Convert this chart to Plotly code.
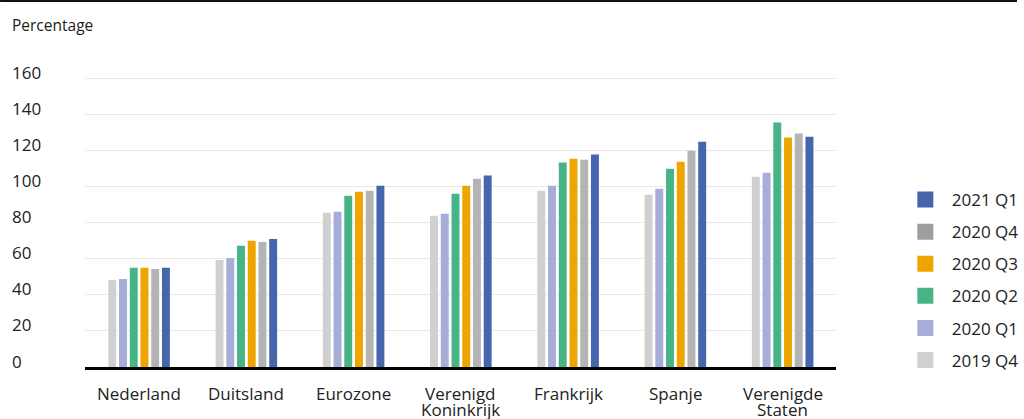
import plotly.graph_objects as go

categories = ["Nederland", "Duitsland", "Eurozone", "Verenigd Koninkrijk",
              "Frankrijk", "Spanje", "Verenigde Staten"]
category_label_lines = [["Nederland"], ["Duitsland"], ["Eurozone"], ["Verenigd", "Koninkrijk"],
                        ["Frankrijk"], ["Spanje"], ["Verenigde", "Staten"]]
series_names = ["2019 Q4", "2020 Q1", "2020 Q2", "2020 Q3", "2020 Q4", "2021 Q1"]
q4_2019 = [48.3, 59.4, 85.6, 83.9, 97.8, 95.6, 105.6]
q1_2020 = [48.8, 60.5, 86.1, 85.0, 100.6, 98.9, 107.8]
q2_2020 = [55.0, 67.2, 95.0, 96.1, 113.4, 110.0, 135.6]
q3_2020 = [55.0, 70.0, 97.2, 100.6, 115.6, 113.9, 127.3]
q4_2020 = [54.4, 69.4, 97.8, 104.5, 115.0, 120.0, 129.5]
q1_2021 = [55.0, 71.0, 100.6, 106.2, 117.9, 125.0, 127.8]
series_values = [q4_2019, q1_2020, q2_2020, q3_2020, q4_2020, q1_2021]
bar_colors = ["#d0d0d0", "#a6add8", "#47b488", "#efa500", "#b4b4b4", "#4565ad"]
legend_colors = ["#d0d0d0", "#a6add8", "#47b488", "#efa500", "#9e9e9e", "#4565ad"]
y_ticks = [0, 20, 40, 60, 80, 100, 120, 140, 160]
y_tick_labels = ["0", "20", "40", "60", "80", "100", "120", "140", "160"]

FONT = "Open Sans"
TXT = "#222222"
W, H = 1024, 419
ml, mr, mt, mb = 10, 0, 75, 52
pw = W - ml - mr
ph = H - mt - mb


def py(p):
    """pixel row -> paper y"""
    return (H - mb - p) / ph


fig = go.Figure()
for name, vals, col in zip(series_names, series_values, bar_colors):
    fig.add_trace(go.Bar(x=categories, y=vals, name=name, marker_color=col,
                         marker_line_width=0, showlegend=False))
# legend entries (top: newest)
for name, col in reversed(list(zip(series_names, legend_colors))):
    fig.add_trace(go.Scatter(x=[None], y=[None], mode="markers", name=name,
                             legendgroup=name,
                             marker=dict(symbol="square", size=17, color=col)))

x0 = (86 - ml) / pw
x1 = (842 - ml) / pw

annotations = [dict(text=lab, xref="paper", yref="y", x=0, y=v, xanchor="left",
                    yanchor="middle", yshift=6, showarrow=False,
                    font=dict(size=17, color=TXT, family=FONT))
               for v, lab in zip(y_ticks, y_tick_labels)]
# category labels, tight line spacing as in the reference
line_rows = [393, 409]
for cat, lines in zip(categories, category_label_lines):
    for i, line in enumerate(lines):
        annotations.append(dict(text=line, xref="x", yref="paper", x=cat, y=py(line_rows[i]),
                                xanchor="center", yanchor="middle", showarrow=False,
                                font=dict(size=17, color=TXT, family=FONT)))
annotations.append(dict(text="Percentage", xref="paper", yref="paper", x=0, y=py(25),
                        xanchor="left", yanchor="middle", showarrow=False,
                        font=dict(size=15.5, color=TXT, family=FONT)))

fig.update_layout(
    width=W, height=H,
    margin=dict(l=ml, r=mr, t=mt, b=mb, pad=0),
    paper_bgcolor="white", plot_bgcolor="white",
    font=dict(family=FONT, size=17, color=TXT),
    barmode="group", bargap=0.40, bargroupgap=0.26,
    xaxis=dict(domain=[x0, x1], range=[-0.5, 6.5], automargin=False,
               showline=True, linecolor="#000000", linewidth=2.5,
               ticks="", showgrid=False, showticklabels=False),
    yaxis=dict(range=[0, 162], tickvals=y_ticks, showticklabels=False, automargin=False,
               showgrid=True, gridcolor="#e8e8e8", gridwidth=1, zeroline=False,
               showline=False, ticks=""),
    legend=dict(x=(905 - ml) / pw, xanchor="left", y=py(182), yanchor="top",
                traceorder="grouped", tracegroupgap=7, itemwidth=43,
                font=dict(size=17, color=TXT, family=FONT), bgcolor="rgba(0,0,0,0)"),
    annotations=annotations,
    shapes=[dict(type="line", xref="paper", yref="paper", x0=-ml / pw, x1=1.0,
                 y0=py(1), y1=py(1), line=dict(color="#111111", width=2))],
)

fig.write_html("out.html")
